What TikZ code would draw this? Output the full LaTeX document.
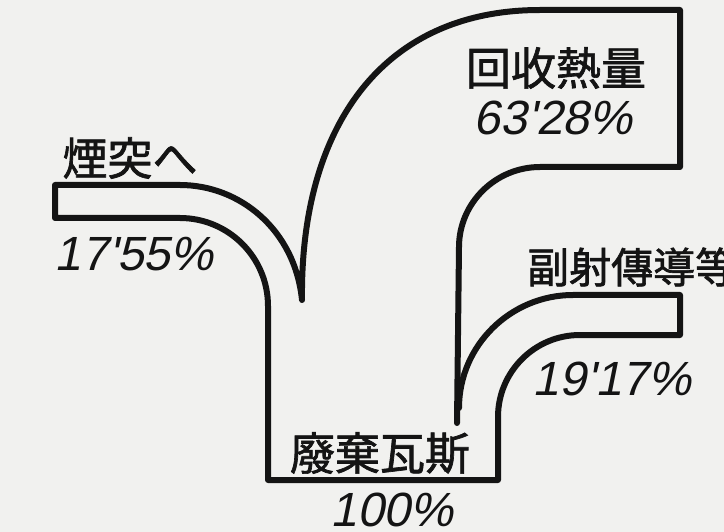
\documentclass[tikz,border=0pt]{standalone}
\usepackage{fontspec}
\newfontfamily\cjkfont[FakeBold=1.5]{Noto Sans CJK JP}
\newfontfamily\numfont[FakeSlant=0.2]{Liberation Sans}
\definecolor{paper}{RGB}{241,241,239}
\definecolor{ink}{RGB}{20,20,20}
\begin{document}
\begin{tikzpicture}[x=1pt,y=-1pt,
  band/.style={line width=6pt, line join=round, line cap=round, draw=ink},
  cjkl/.style={inner sep=0pt, text=ink, font=\cjkfont\fontsize{45}{45}\selectfont},
  cjks/.style={inner sep=0pt, text=ink, font=\cjkfont\fontsize{42}{42}\selectfont},
  numl/.style={inner sep=0pt, text=ink, font=\numfont\fontsize{48}{48}\selectfont}]
\fill[paper] (0,0) rectangle (724,532);
\useasboundingbox (0,0) rectangle (724,532);
% outer outline: chimney band, base, side band
\draw[band] (180,185) -- (55,185) -- (55,218) -- (180,218)
  .. controls (228.6,218) and (268,257.4) .. (268,306) -- (268,480) -- (498,480) -- (498,417)
  .. controls (498,371.7) and (534.7,335) .. (580,335) -- (680,335) -- (680,295) -- (573,295)
  .. controls (510.6,295) and (459,345.6) .. (459,408);
% main recovered-heat branch
\draw[band] (180,185) .. controls (240,185) and (295,230) .. (302,300)
  .. controls (300,130) and (380,10) .. (540,10) -- (680,10) -- (680,167) -- (540,167)
  .. controls (495.8,167) and (459,202.8) .. (459,247) -- (457,423);
% labels
\node[cjkl] (huishou) at (556,68) {回收熱量};
\node[numl] (p6328) at (553,118) {63'28\%};
\node[cjkl] (yantu) at (130,158) {煙突へ};
\node[numl] (p1755) at (134,254) {17'55\%};
\node[cjks, anchor=west] (fushe) at (527,267) {副射傳導等};
\node[numl] (p1917) at (612,379) {19'17\%};
\node[cjkl] (feiqi) at (380,453) {廢棄瓦斯};
\node[numl] (p100) at (392,510) {100\%};
\end{tikzpicture}
\end{document}
